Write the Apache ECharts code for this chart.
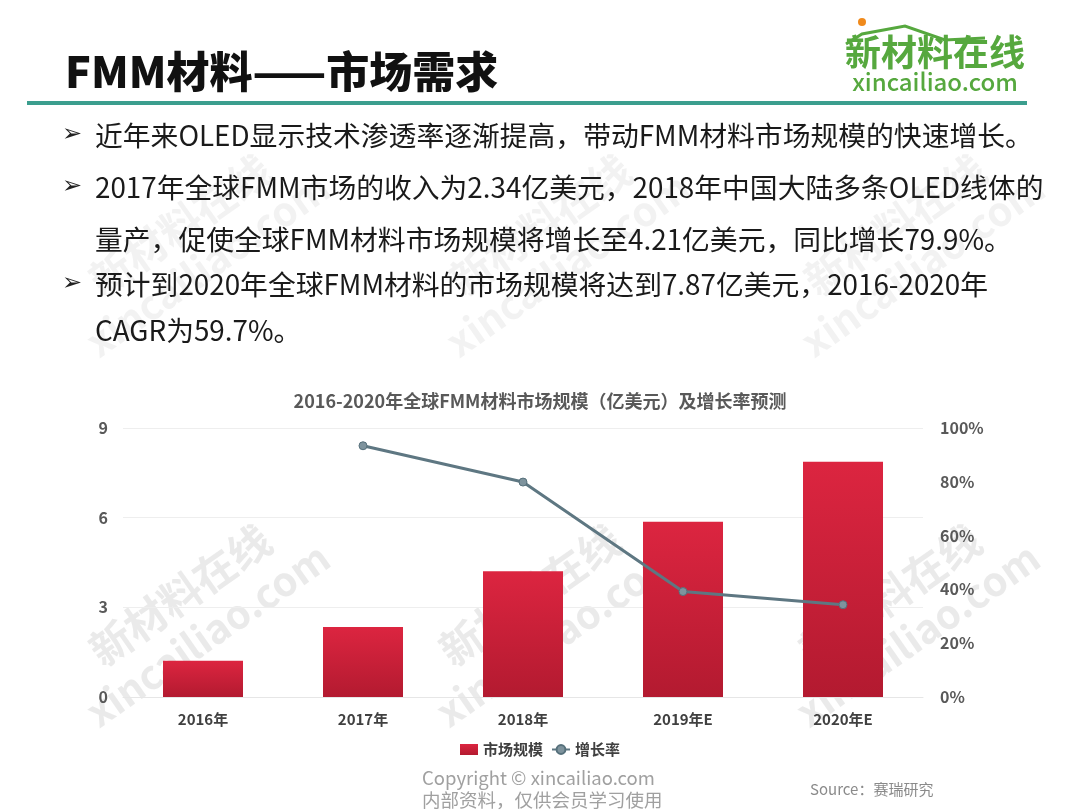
<!DOCTYPE html>
<html>
<head>
<meta charset="utf-8">
<script src="https://cdn.jsdelivr.net/npm/echarts@6/dist/echarts.min.js"></script>
<style>
  html, body { margin: 0; padding: 0; background: #fff; }
  #chart { width: 1080px; height: 810px; }
</style>
</head>
<body>
<div id="chart"></div>
<script>
// ── data ──
const years = ["2016年", "2017年", "2018年", "2019年E", "2020年E"];
const marketSize = [1.21, 2.34, 4.21, 5.86, 7.87];       // 亿美元
const growthRate = [null, 93.4, 79.9, 39.2, 34.3];       // %
const leftTicks = { min: 0, max: 9, interval: 3 };
const rightTicks = { min: 0, max: 100, interval: 20 };

const bullets = [
  { y: 135, mark: true,  text: "近年来OLED显示技术渗透率逐渐提高，带动FMM材料市场规模的快速增长。" },
  { y: 187, mark: true,  text: "2017年全球FMM市场的收入为2.34亿美元，2018年中国大陆多条OLED线体的" },
  { y: 239, mark: false, text: "量产，促使全球FMM材料市场规模将增长至4.21亿美元，同比增长79.9%。" },
  { y: 284, mark: true,  text: "预计到2020年全球FMM材料的市场规模将达到7.87亿美元，2016-2020年" },
  { y: 330, mark: false, text: "CAGR为59.7%。" },
];

const FONT = '"Noto Sans CJK SC", "Noto Sans", sans-serif';
const GREEN = "#56a83e";

// ── watermark (rotated brand text) ──
function watermark(x, y, a) {
  const fill = `rgba(195,195,195,${a})`;
  return {
    type: "group", x, y, rotation: 35 * Math.PI / 180, silent: true, z: 1,
    children: [
      { type: "text", x: 0, y: 0, style: { text: "新材料在线", font: `bold 42px ${FONT}`,
        fill, align: "center", verticalAlign: "middle" } },
      { type: "text", x: 0, y: 48, style: { text: "xincailiao.com", font: `bold 40px ${FONT}`,
        fill, align: "center", verticalAlign: "middle" } },
    ],
  };
}

const graphics = [
  // page title + rule
  { type: "text", x: 65, y: 72, style: { text: "FMM材料——市场需求",
    font: `900 43px ${FONT}`, fill: "#111", verticalAlign: "middle" } },
  { type: "rect", shape: { x: 27, y: 101, width: 1000, height: 4 }, style: { fill: "#3b9e8e" } },
  // logo
  { type: "circle", shape: { cx: 862, cy: 22, r: 4 }, style: { fill: "#f08a1c" } },
  { type: "polyline", shape: { points: [[846, 44], [862, 34], [905, 26], [945, 40], [985, 38]] },
    style: { stroke: GREEN, lineWidth: 3, fill: null } },
  { type: "text", x: 935, y: 52, style: { text: "新材料在线", font: `bold 36px ${FONT}`,
    fill: GREEN, align: "center", verticalAlign: "middle" } },
  { type: "text", x: 935, y: 82, style: { text: "xincailiao.com", font: `500 24px ${FONT}`,
    fill: GREEN, align: "center", verticalAlign: "middle" } },
  // footer
  { type: "text", x: 422, y: 778, style: { text: "Copyright © xincailiao.com",
    font: `18.5px ${FONT}`, fill: "#a0a0a0", verticalAlign: "middle" } },
  { type: "text", x: 422, y: 800, style: { text: "内部资料，仅供会员学习使用",
    font: `18.5px ${FONT}`, fill: "#a0a0a0", verticalAlign: "middle" } },
  { type: "text", x: 810, y: 789, style: { text: "Source：赛瑞研究",
    font: `15px ${FONT}`, fill: "#8a8a8a", verticalAlign: "middle" } },
  // watermarks
  watermark(180, 225, 0.22), watermark(540, 225, 0.22), watermark(895, 225, 0.22),
  watermark(180, 595, 0.35), watermark(530, 595, 0.35), watermark(890, 595, 0.35),
];

bullets.forEach((b) => {
  if (b.mark) graphics.push({ type: "text", x: 62, y: b.y, style: { text: "➢",
    font: `24px "DejaVu Sans", sans-serif`, fill: "#222", verticalAlign: "middle" } });
  graphics.push({ type: "text", x: 95, y: b.y, style: { text: b.text,
    font: `27.8px ${FONT}`, fill: "#1a1a1a", verticalAlign: "middle" } });
});

const chart = echarts.init(document.getElementById("chart"), null, { renderer: "canvas" });
chart.setOption({
  backgroundColor: "#fff",
  animation: false,
  textStyle: { fontFamily: FONT },
  title: {
    text: "2016-2020年全球FMM材料市场规模（亿美元）及增长率预测",
    left: "center", top: 387,
    textStyle: { fontSize: 18, fontWeight: "bold", color: "#595959" },
  },
  legend: {
    bottom: 48, left: "center", itemGap: 8, itemWidth: 18, itemHeight: 11,
    textStyle: { fontSize: 15, fontWeight: "bold", color: "#404040" },
    data: [
      { name: "市场规模", icon: "rect" },
      { name: "增长率" },
    ],
  },
  grid: { left: 123, right: 157, top: 428, bottom: 113, containLabel: false },
  xAxis: {
    type: "category", data: years,
    axisLine: { show: true, lineStyle: { color: "#e6e6e6" } },
    axisTick: { show: false },
    axisLabel: { fontSize: 15, fontWeight: "bold", color: "#404040", margin: 15 },
  },
  yAxis: [
    {
      type: "value", ...leftTicks,
      axisLine: { show: false }, axisTick: { show: false },
      axisLabel: { fontSize: 16, fontWeight: "bold", color: "#595959", margin: 15 },
      splitLine: { lineStyle: { color: "#eeeeee" } },
    },
    {
      type: "value", ...rightTicks,
      axisLine: { show: false }, axisTick: { show: false },
      axisLabel: { fontSize: 16, fontWeight: "bold", color: "#595959", margin: 17, formatter: "{value}%" },
      splitLine: { show: false },
    },
  ],
  series: [
    {
      name: "市场规模", type: "bar", data: marketSize, barWidth: "50%", z: 2,
      itemStyle: {
        color: new echarts.graphic.LinearGradient(0, 0, 0, 1, [
          { offset: 0, color: "#dc2540" },
          { offset: 1, color: "#b31a30" },
        ]),
      },
    },
    {
      name: "增长率", type: "line", yAxisIndex: 1, data: growthRate, z: 3,
      symbol: "circle", symbolSize: 8,
      lineStyle: { color: "#5e7782", width: 3 },
      itemStyle: { color: "#7e939d", borderColor: "#56707b", borderWidth: 1 },
    },
  ],
  graphic: graphics,
});
</script>
</body>
</html>
